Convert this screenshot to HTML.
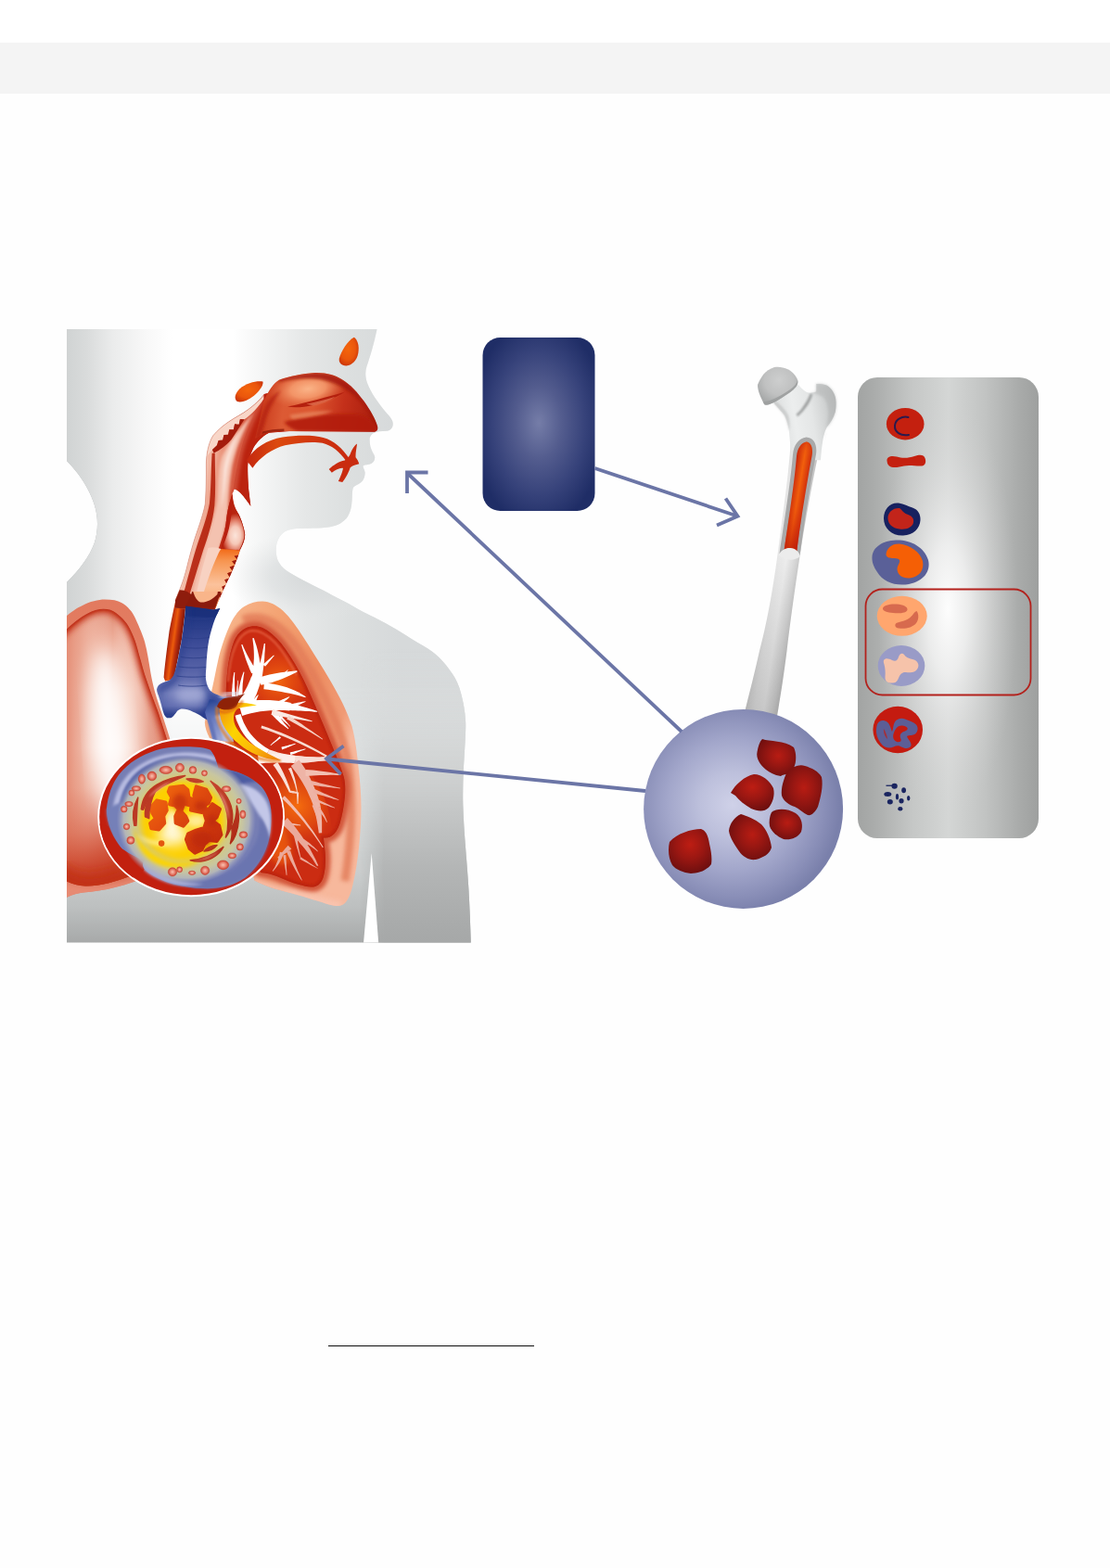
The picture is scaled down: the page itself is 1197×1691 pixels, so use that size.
<!DOCTYPE html>
<html lang="en">
<head>
<meta charset="utf-8">
<title>Figure</title>
<style>
html,body{margin:0;padding:0;background:#ffffff;}
body{width:1197px;height:1691px;position:relative;overflow:hidden;font-family:"Liberation Sans",sans-serif;}
#band{position:absolute;left:0;top:46.4px;width:1197px;height:54.4px;background:#f4f4f4;}
#lower{position:absolute;left:0;top:101px;width:1197px;height:1590px;background:#fefefe;}
#rule{position:absolute;left:354px;top:1450.8px;width:222px;height:1.2px;background:#0c0c0c;}
#fig{position:absolute;left:0;top:0;width:1197px;height:1691px;display:block;}
</style>
</head>
<body>
<div id="lower"></div>
<div id="band"></div>
<svg id="fig" viewBox="0 0 1197 1691" width="1197" height="1691">
<defs>
<filter id="ib8" x="-50%" y="-50%" width="200%" height="200%"><feGaussianBlur stdDeviation="8"/></filter>
<filter id="ib15" x="-50%" y="-50%" width="200%" height="200%"><feGaussianBlur stdDeviation="15"/></filter>
<filter id="ib30" x="-50%" y="-50%" width="200%" height="200%"><feGaussianBlur stdDeviation="30"/></filter>
<filter id="ib50" x="-60%" y="-60%" width="220%" height="220%"><feGaussianBlur stdDeviation="50"/></filter>
</defs>

<defs>
<linearGradient id="bodyV" gradientUnits="userSpaceOnUse" x1="0" y1="355" x2="0" y2="1017">
<stop offset="0" stop-color="#f3f4f4"/>
<stop offset="0.45" stop-color="#e6e8e8"/>
<stop offset="0.62" stop-color="#dfe2e2"/>
<stop offset="0.76" stop-color="#d6d9d9"/>
<stop offset="0.88" stop-color="#cbcece"/>
<stop offset="0.94" stop-color="#bdc0c0"/>
<stop offset="1" stop-color="#a7a9a9"/>
</linearGradient>
<linearGradient id="bodyH" gradientUnits="userSpaceOnUse" x1="72" y1="0" x2="430" y2="0">
<stop offset="0" stop-color="#d0d3d3"/>
<stop offset="0.06" stop-color="#d9dbdb"/>
<stop offset="0.14" stop-color="#ebecec"/>
<stop offset="0.24" stop-color="#f8f8f8"/>
<stop offset="0.32" stop-color="#ffffff"/>
<stop offset="0.5" stop-color="#ffffff"/>
<stop offset="0.6" stop-color="#f3f4f4"/>
<stop offset="0.72" stop-color="#e5e7e7"/>
<stop offset="0.85" stop-color="#dcdfdf"/>
<stop offset="1" stop-color="#d6d9da"/>
</linearGradient>
<linearGradient id="fadeV" gradientUnits="userSpaceOnUse" x1="0" y1="740" x2="0" y2="930">
<stop offset="0" stop-color="#fff"/>
<stop offset="1" stop-color="#000"/>
</linearGradient>
<mask id="headMask" maskUnits="userSpaceOnUse" x="60" y="340" width="470" height="700">
<rect x="60" y="340" width="470" height="700" fill="url(#fadeV)"/>
</mask>
<radialGradient id="jawSh" gradientUnits="userSpaceOnUse" cx="335" cy="622" r="70" gradientTransform="translate(335 622) scale(1.3 0.7) translate(-335 -622)">
<stop offset="0" stop-color="#d4d7d8" stop-opacity="0.9"/>
<stop offset="0.5" stop-color="#d8dbdc" stop-opacity="0.6"/>
<stop offset="1" stop-color="#e4e6e6" stop-opacity="0"/>
</radialGradient>
<radialGradient id="notchSh" gradientUnits="userSpaceOnUse" cx="62" cy="562" r="125" gradientTransform="translate(62 562) scale(1 1.25) translate(-62 -562)">
<stop offset="0" stop-color="#b0b4b5" stop-opacity="1"/>
<stop offset="0.32" stop-color="#b4b8b9" stop-opacity="1"/>
<stop offset="0.5" stop-color="#c2c5c6" stop-opacity="0.85"/>
<stop offset="0.75" stop-color="#dcdede" stop-opacity="0.45"/>
<stop offset="1" stop-color="#f4f4f4" stop-opacity="0"/>
</radialGradient>
<linearGradient id="armV" gradientUnits="userSpaceOnUse" x1="0" y1="700" x2="0" y2="1017">
<stop offset="0" stop-color="#e0e2e2" stop-opacity="0"/>
<stop offset="0.3" stop-color="#d4d6d6" stop-opacity="0.6"/>
<stop offset="0.52" stop-color="#c7c9c9" stop-opacity="1"/>
<stop offset="0.74" stop-color="#b4b6b6" stop-opacity="1"/>
<stop offset="0.95" stop-color="#a8aaaa" stop-opacity="1"/>
<stop offset="1" stop-color="#a6a8a8" stop-opacity="1"/>
</linearGradient>
<linearGradient id="armFade" gradientUnits="userSpaceOnUse" x1="388" y1="0" x2="414" y2="0">
<stop offset="0" stop-color="#000"/>
<stop offset="1" stop-color="#fff"/>
</linearGradient>
<mask id="armMask" maskUnits="userSpaceOnUse" x="380" y="640" width="140" height="400">
<rect x="380" y="640" width="140" height="400" fill="url(#armFade)"/>
</mask>
<clipPath id="bodyClip">
<path d="M72,355 L406.5,355 C404,368 399,385 395.5,395 C393.5,401 394,407 396,413 C400,424 408,434 414,442 C419,448 423.5,452 423.7,456.5 C424,461 421.5,464 417,464.8 L408.5,465.2 C403,466 398.6,469 398.6,474 C398.6,480 400,484 401.5,487 C403,490 404.5,492 404.2,494 C404,497 402,499.5 399,500.5 C396,501.5 392.5,501 391.6,502.5 C391,504 393.6,507 393.6,510 C393.6,514 392,518 389.5,520 C386,523 381,524 380.5,527 C379.5,531 380,535 379.5,540 C379,547 378,552 375,557 C371,563 364,567 356,568.2 C345,569.8 330,569.5 320,570.1 C312,570.6 308,572.5 304.5,575.5 C300,579.5 298,585 297.7,592 C297.5,598 298.5,603 301,607 C304,612 308,615 313,618 C325,625 335,630 345,635 C355,640 362,644 370,648 C378,652 385,656.5 392.8,660.5 C400,664 408,668 415.5,671.9 C423,676 431,680.5 438.3,685.5 C446,690.5 454,695 461,699.2 C467,703 472.5,707.5 477,712.8 C482.5,719 487,725 490.6,731 C494.5,738 497,746 498.6,753.8 C500.3,761 501.5,769 502,776.6 C502.5,784 502,792 501.6,799.3 C501,811 500.2,822 499.7,833.5 C499.3,845 499,856 499.3,867.6 C499.8,883 500.8,898 502,913.2 C503.2,928 504.4,943 505.4,958.7 C506.4,977 507.2,996 507.7,1016.5 L72,1016.5 L72,628 C85,615 97,600 102,585 C106,572 106,558 102,545 C97,528 85,510 72,497 Z"/>
</clipPath>
</defs>
<g clip-path="url(#bodyClip)">
<rect x="72" y="355" width="436" height="662" fill="url(#bodyV)"/>
<ellipse cx="62" cy="562" rx="130" ry="160" fill="url(#notchSh)"/>
<rect x="72" y="355" width="436" height="600" fill="url(#bodyH)" mask="url(#headMask)"/>
<ellipse cx="335" cy="622" rx="95" ry="52" fill="url(#jawSh)"/>
<rect x="380" y="700" width="130" height="320" fill="url(#armV)" mask="url(#armMask)"/>
<path d="M400.7,920 L392,1017 L408.2,1017 Z" fill="#ffffff"/>
</g>

<defs>
<filter id="blur3" x="-20%" y="-20%" width="140%" height="140%"><feGaussianBlur stdDeviation="3"/></filter>
<filter id="blur6" x="-30%" y="-30%" width="160%" height="160%"><feGaussianBlur stdDeviation="6"/></filter>
<filter id="blur10" x="-40%" y="-40%" width="180%" height="180%"><feGaussianBlur stdDeviation="10"/></filter>
<filter id="blur1" x="-20%" y="-20%" width="140%" height="140%"><feGaussianBlur stdDeviation="1.2"/></filter>
<filter id="blur2" x="-20%" y="-20%" width="140%" height="140%"><feGaussianBlur stdDeviation="2"/></filter>
<clipPath id="imgClip"><rect x="72" y="355" width="436" height="662"/></clipPath>
<path id="rlOuter" d="M60,674 C74,662 82,656 88,653.5 C97,648.5 106,646.5 113,646.5 C121,646.5 127,647.5 131,650 C138,654 143,660 146,667 C151,678 154,685 156,692 C159,703 160.5,714 162.5,726 C165,740 168,750 171,759 C175,771 179,783 183,796 C190,820 196,850 196,880 C196,905 180,930 160,944 C140,955 110,961 90,962.5 C80,963.5 70,968 60,974 Z"/>
<path id="rlInner" d="M60,690 C78,672 90,662 103,658 C112,655.5 120,657 125,661 C133,667 138,673 141,680 C146,690 148,698 150,706 C153,716 155,725 158,733 C162,745 167,758 171,769 C174,778 177,788 180,797 C188,825 190,860 188,890 C184,915 165,935 140,945 C125,951 105,956 92,955.5 C80,955 70,950 60,944 Z"/>
<clipPath id="rlInnerClip"><use href="#rlInner"/></clipPath>
<clipPath id="rlOuterClip"><use href="#rlOuter"/></clipPath>
<linearGradient id="rlOutG" gradientUnits="userSpaceOnUse" x1="0" y1="646" x2="0" y2="970">
<stop offset="0" stop-color="#e27a5f"/>
<stop offset="0.5" stop-color="#e58569"/>
<stop offset="0.9" stop-color="#dc6c52"/>
<stop offset="1" stop-color="#e0806a"/>
</linearGradient>
<linearGradient id="rlInV" gradientUnits="userSpaceOnUse" x1="0" y1="655" x2="0" y2="958">
<stop offset="0" stop-color="#e08a72"/>
<stop offset="0.12" stop-color="#eeb09c"/>
<stop offset="0.3" stop-color="#f8d8cc"/>
<stop offset="0.5" stop-color="#fbe6de"/>
<stop offset="0.62" stop-color="#f2c0b0"/>
<stop offset="0.76" stop-color="#e4917b"/>
<stop offset="0.89" stop-color="#d25339"/>
<stop offset="1" stop-color="#c4331b"/>
</linearGradient>
<linearGradient id="rlBot" gradientUnits="userSpaceOnUse" x1="0" y1="850" x2="0" y2="958">
<stop offset="0" stop-color="#d9654c" stop-opacity="0"/>
<stop offset="0.45" stop-color="#d45a40" stop-opacity="0.45"/>
<stop offset="0.8" stop-color="#c83c22" stop-opacity="0.85"/>
<stop offset="1" stop-color="#c2331b" stop-opacity="1"/>
</linearGradient>
<linearGradient id="rlInH" gradientUnits="userSpaceOnUse" x1="72" y1="0" x2="190" y2="0">
<stop offset="0" stop-color="#e48c74" stop-opacity="0.95"/>
<stop offset="0.12" stop-color="#e9a08a" stop-opacity="0.75"/>
<stop offset="0.3" stop-color="#f6d0c2" stop-opacity="0.25"/>
<stop offset="0.42" stop-color="#ffffff" stop-opacity="0"/>
<stop offset="0.56" stop-color="#f6d0c2" stop-opacity="0.3"/>
<stop offset="0.75" stop-color="#e49680" stop-opacity="0.8"/>
<stop offset="1" stop-color="#d8654c" stop-opacity="0.95"/>
</linearGradient>
<path id="llOuter" d="M228.5,744 C231,733 233,722 235,713 C238,699 243,685 248,674 C252,665 257,658 263.5,654 C270,650 277,648.5 283,648.6 C291,649 298,652.5 305,658.5 C313,666 320,676 327,687 C335,699 342,711 349,722 C355,732 361,742 366.4,752.6 C372,763 376,773 379.5,783 C383,796 385,812 386.5,827 C388.2,842 389.5,856 389.5,870.8 C389.5,885 388.5,900 387,914.6 C385.5,928 383.5,942 380.5,954 C379,961 377,967 374,971.5 C371.5,975.5 367,977.5 362,977 C355,976 349,973.5 342.3,971.5 C335,969.5 328,967 320.4,965 C312,962.5 304,960.5 296.3,958.4 C288,956 281,953 274.4,949.6 L243,800 L226,796 C223,790 221,784 220.8,779 Z"/>
<path id="llInner" d="M243.8,748 C244,735 245,726 246,717.6 C247.5,708 249.5,699 252.5,691.3 C255.5,684.5 260,679.5 265.7,677 C271.5,674.5 277.5,674.5 283,677 C290.5,680.5 297,686.5 302.9,693.5 C310,702.5 316.5,713 322.6,724 C329,736 334.5,748.5 340,761.3 C346,775 352,789 357.6,803 C362.5,815 367.5,826.5 370.8,838 C372.5,845 372.5,852.5 371.8,859.9 C370.8,869.5 369,879.5 366.4,888.3 C364.5,894.5 361.5,899 357.6,901.5 C355,903.5 351.5,903.3 348.9,903.6 C349.5,911 350.8,918 351,925.5 C351,932.5 350.5,939 348.9,945 C347.5,950.5 344.5,954.5 340,956 C334.5,957.5 328.5,955.5 322.6,954 C314.5,952 306.5,948.5 298.5,945 C292.5,942.5 286.5,941.5 281,941 L250,790 Z"/>
<clipPath id="llOuterClip"><use href="#llOuter"/></clipPath>
<clipPath id="llInnerClip"><use href="#llInner"/></clipPath>
<linearGradient id="llOutG" gradientUnits="userSpaceOnUse" x1="230" y1="700" x2="392" y2="760">
<stop offset="0" stop-color="#f7b58c"/>
<stop offset="0.3" stop-color="#f4a474"/>
<stop offset="0.65" stop-color="#ee8e62"/>
<stop offset="0.9" stop-color="#f09a74"/>
<stop offset="1" stop-color="#f7b89c"/>
</linearGradient>
<radialGradient id="llHi1" gradientUnits="userSpaceOnUse" cx="300" cy="735" r="45">
<stop offset="0" stop-color="#f2650e"/>
<stop offset="0.5" stop-color="#e2480f" stop-opacity="0.7"/>
<stop offset="1" stop-color="#cc2c12" stop-opacity="0"/>
</radialGradient>
<radialGradient id="llHi2" gradientUnits="userSpaceOnUse" cx="322" cy="870" r="50">
<stop offset="0" stop-color="#f56c0e"/>
<stop offset="0.5" stop-color="#e4500f" stop-opacity="0.75"/>
<stop offset="1" stop-color="#cc2c12" stop-opacity="0"/>
</radialGradient>
</defs>
<g clip-path="url(#imgClip)">
<!-- right lung (viewer's left) -->
<use href="#rlOuter" fill="url(#rlOutG)"/>
<g clip-path="url(#rlOuterClip)">
<path d="M60,946 C90,962 130,957 165,938 L175,990 L60,990 Z" fill="#e88d76" opacity="0.85" filter="url(#blur3)"/>
</g>
<g clip-path="url(#rlInnerClip)">
<rect x="60" y="640" width="150" height="340" fill="url(#rlInV)"/>
<rect x="60" y="640" width="150" height="340" fill="url(#rlInH)"/>
<rect x="60" y="840" width="150" height="130" fill="url(#rlBot)"/>
<ellipse cx="118" cy="795" rx="17" ry="95" fill="#ffffff" opacity="0.9" filter="url(#blur10)" transform="rotate(-4 118 795)"/>
<path d="M60,690 C78,672 90,662 103,658 C112,655.5 120,657 125,661 C133,667 138,673 141,680 C146,690 148,698 150,706 C153,716 155,725 158,733 C162,745 167,758 171,769 C174,778 177,788 180,797 C186,815 190,835 192,860" fill="none" stroke="#c63a22" stroke-width="9" filter="url(#blur3)"/>
<path d="M60,690 C78,672 90,662 103,658 C112,655.5 120,657 125,661 C133,667 138,673 141,680 C146,690 148,698 150,706 C153,716 155,725 158,733 C162,745 167,758 171,769 C174,778 177,788 180,797" fill="none" stroke="#bf2f18" stroke-width="3" filter="url(#blur1)"/>
<path d="M55,935 C70,950 80,955 92,955.5 C105,956 125,951 150,940" fill="none" stroke="#c23218" stroke-width="22" filter="url(#blur6)"/>
</g>
<!-- left lung (viewer's right) -->
<use href="#llOuter" fill="url(#llOutG)"/>
<g clip-path="url(#llOuterClip)">
<path d="M262,668 C285,660 305,675 322,700 C345,738 365,780 374,815 C381,850 380,900 372,950" fill="none" stroke="#e27b58" stroke-width="9" opacity="0.8" filter="url(#blur2)"/>
<use href="#llInner" fill="none" stroke="#d3573a" stroke-width="11" filter="url(#blur2)"/>
<path d="M270,950 C300,962 340,972 368,978" fill="none" stroke="#f9c6b2" stroke-width="10" filter="url(#blur3)" opacity="0.9"/>
</g>
<use href="#llInner" fill="#cb2c12"/>
<g clip-path="url(#llInnerClip)">
<ellipse cx="300" cy="735" rx="42" ry="52" fill="url(#llHi1)"/>
<ellipse cx="320" cy="872" rx="32" ry="62" fill="url(#llHi2)" transform="rotate(-22 320 872)"/>
<ellipse cx="296" cy="905" rx="14" ry="30" fill="#f2650e" opacity="0.7" filter="url(#blur3)" transform="rotate(-25 296 905)"/>
<use href="#llInner" fill="none" stroke="#b8240f" stroke-width="5" filter="url(#blur1)" opacity="0.8"/>
<path d="M246,735 C248,705 256,682 272,680 C290,680 305,700 320,728" fill="none" stroke="#e86a4a" stroke-width="2" opacity="0.8" filter="url(#blur1)"/>
</g>
<!--TREE-->
</g>

<g clip-path="url(#imgClip)">
<g clip-path="url(#llInnerClip)">
<g transform="translate(225 660) scale(0.14203)">
<path d="M201,786 L212,823 L227,858 L244,892 L264,924 L286,954 L312,982 L340,1009 L371,1035 L404,1058 L440,1080 L460,1044 L427,1024 L396,1002 L368,978 L342,953 L320,927 L299,900 L282,870 L266,840 L254,808 L243,774 Z M280,769 L296,747 L311,724 L326,700 L339,675 L351,650 L363,624 L373,597 L383,569 L392,541 L399,511 L325,489 L315,515 L305,539 L294,563 L282,586 L270,608 L257,628 L243,648 L229,667 L215,684 L200,701 Z M398,509 L397,476 L396,444 L393,412 L389,381 L384,349 L378,318 L371,287 L363,257 L353,227 L343,197 L333,199 L337,230 L341,261 L343,292 L344,322 L344,352 L342,382 L340,412 L337,442 L332,472 L326,501 Z M364,444 L354,429 L343,414 L333,397 L322,379 L311,360 L300,340 L289,318 L278,296 L267,272 L256,247 L248,249 L256,276 L264,301 L272,326 L279,349 L287,371 L295,392 L303,412 L310,431 L318,449 L326,466 Z M406,491 L410,468 L413,446 L416,422 L419,398 L422,373 L424,348 L425,322 L427,296 L428,268 L429,240 L421,240 L416,267 L411,294 L406,320 L401,345 L395,369 L390,393 L384,416 L377,438 L370,459 L364,479 Z M430,413 L437,405 L444,397 L451,389 L457,381 L464,373 L471,364 L478,356 L484,348 L491,340 L498,332 L494,328 L486,335 L478,342 L470,349 L462,356 L454,362 L446,369 L438,376 L430,383 L422,390 L414,397 Z M204,641 L202,625 L200,608 L199,591 L198,573 L197,555 L197,537 L197,518 L197,498 L198,479 L199,458 L193,458 L189,478 L186,498 L184,517 L182,536 L180,555 L179,573 L177,591 L177,609 L176,626 L176,643 Z M257,633 L257,615 L257,597 L257,579 L258,561 L259,543 L261,526 L263,508 L265,491 L268,473 L271,456 L265,454 L259,471 L253,488 L248,505 L243,523 L239,540 L235,558 L231,576 L228,594 L225,613 L223,631 Z M222,642 L222,630 L222,618 L222,606 L223,593 L223,581 L223,569 L223,557 L223,545 L224,532 L224,520 L220,520 L219,532 L218,544 L217,556 L215,569 L214,581 L213,593 L212,605 L211,617 L209,629 L208,642 Z M397,555 L423,549 L450,543 L478,536 L505,527 L533,518 L560,507 L588,495 L616,482 L645,468 L673,454 L671,446 L639,449 L608,452 L577,456 L547,460 L518,465 L490,470 L462,476 L435,482 L409,489 L383,495 Z M546,506 L552,500 L557,493 L563,487 L569,480 L575,474 L580,467 L586,461 L592,454 L597,448 L603,441 L601,439 L594,444 L587,450 L581,455 L574,461 L567,466 L561,472 L554,477 L547,483 L541,488 L534,494 Z M418,586 L452,590 L486,595 L520,600 L552,606 L584,612 L615,618 L646,625 L676,632 L705,640 L735,649 L737,643 L711,626 L684,611 L655,597 L625,584 L594,572 L562,563 L528,554 L494,548 L459,542 L422,538 Z M559,607 L572,607 L585,608 L599,609 L612,610 L625,610 L638,611 L651,612 L664,612 L677,613 L690,614 L690,610 L677,609 L664,607 L651,605 L638,603 L625,602 L612,600 L599,598 L587,597 L574,595 L561,593 Z M254,789 L287,778 L321,769 L356,762 L391,756 L427,751 L463,748 L501,746 L538,746 L577,747 L615,750 L625,690 L584,682 L543,676 L503,672 L463,669 L423,668 L383,668 L344,671 L304,674 L265,680 L226,687 Z M616,747 L636,748 L657,748 L677,749 L698,750 L719,752 L740,753 L761,754 L782,756 L804,758 L825,759 L827,753 L806,746 L785,740 L765,734 L744,727 L724,721 L704,716 L684,710 L664,704 L644,699 L624,693 Z M344,711 L348,703 L351,695 L354,687 L358,679 L361,671 L365,663 L368,655 L371,647 L375,639 L378,631 L374,629 L368,635 L362,641 L356,648 L351,654 L345,661 L339,667 L333,674 L327,680 L321,686 L316,693 Z M530,718 L538,711 L547,704 L555,696 L564,689 L573,682 L581,675 L590,668 L598,661 L607,653 L615,646 L613,642 L602,646 L592,651 L582,655 L572,660 L561,664 L551,668 L541,673 L531,677 L520,682 L510,686 Z M625,731 L636,726 L647,721 L658,716 L669,711 L681,707 L692,702 L703,697 L714,692 L726,687 L737,682 L735,678 L723,680 L711,682 L699,685 L687,687 L675,689 L663,692 L651,694 L639,697 L627,699 L615,701 Z M483,781 L493,793 L504,804 L514,815 L526,826 L538,837 L550,848 L563,858 L576,868 L590,879 L604,889 L608,883 L596,871 L585,858 L575,846 L565,833 L555,821 L546,808 L538,796 L531,784 L523,771 L517,759 Z M533,797 L541,805 L550,812 L559,819 L567,827 L576,834 L584,842 L593,849 L602,856 L610,864 L619,871 L621,869 L614,860 L606,852 L599,843 L592,834 L584,826 L577,817 L569,809 L562,800 L555,791 L547,783 Z M541,945 L533,951 L526,958 L519,964 L512,971 L505,977 L497,984 L490,990 L483,997 L476,1004 L468,1010 L472,1014 L479,1008 L487,1002 L495,996 L503,990 L510,985 L518,979 L526,973 L534,967 L542,961 L549,955 Z M558,1046 L569,1041 L579,1037 L589,1033 L599,1028 L610,1024 L620,1020 L630,1015 L640,1011 L651,1007 L661,1002 L659,998 L648,1000 L638,1003 L627,1006 L616,1009 L605,1012 L595,1015 L584,1018 L573,1021 L562,1023 L552,1026 Z M623,1086 L634,1081 L646,1077 L657,1073 L669,1068 L680,1064 L691,1060 L703,1055 L714,1051 L725,1047 L737,1042 L735,1038 L723,1040 L712,1043 L700,1046 L688,1049 L676,1052 L664,1055 L652,1058 L641,1061 L629,1063 L617,1066 Z" fill="#ffffff"/>
<path d="M443,1081 L479,1093 L518,1103 L558,1111 L601,1118 L645,1124 L692,1128 L741,1131 L792,1132 L845,1131 L900,1130 L900,1102 L845,1103 L793,1102 L743,1099 L695,1095 L650,1090 L606,1083 L566,1075 L527,1066 L491,1055 L457,1043 Z" fill="#fbe6de"/>
<path d="M475,782 L504,786 L533,791 L563,796 L593,801 L624,806 L655,811 L687,817 L719,822 L752,828 L785,833 L787,827 L754,817 L722,808 L691,799 L660,790 L629,781 L599,772 L570,764 L541,755 L513,747 L485,738 Z" fill="#fbe9e2"/>
<path d="M592,813 L617,826 L642,840 L668,854 L695,869 L722,884 L749,900 L777,916 L806,933 L835,950 L865,968 L867,964 L839,944 L811,924 L784,905 L757,887 L731,869 L706,851 L680,835 L656,818 L631,802 L608,787 Z" fill="#f6d2c6"/>
<path d="M397,882 L445,898 L493,915 L542,934 L591,954 L640,975 L690,998 L740,1022 L790,1048 L841,1074 L892,1103 L900,1089 L849,1061 L798,1033 L748,1007 L697,982 L648,959 L598,937 L549,916 L500,897 L451,879 L403,862 Z" fill="#f8dcd2"/>
</g>
<g transform="translate(250 800) scale(0.14203)">
<path d="M202,165 L230,163 L257,161 L284,160 L312,159 L339,159 L367,159 L394,159 L422,160 L450,161 L477,163 L483,105 L454,102 L426,99 L398,96 L369,94 L341,92 L312,91 L284,90 L255,90 L226,90 L198,91 Z" fill="#fdeee8"/>
<path d="M479,163 L503,162 L527,161 L551,160 L575,158 L599,155 L622,153 L645,150 L668,146 L691,142 L713,138 L711,114 L688,115 L666,116 L643,116 L620,115 L597,115 L574,114 L551,112 L528,110 L505,108 L481,105 Z" fill="#f8dcd4"/>
<path d="M449,183 L472,214 L495,245 L516,276 L535,307 L554,339 L571,372 L586,405 L601,438 L614,472 L625,507 L675,493 L665,456 L654,419 L641,383 L627,346 L611,311 L594,275 L576,240 L556,205 L534,171 L511,137 Z M625,505 L630,524 L634,543 L638,562 L642,581 L646,600 L649,619 L652,637 L655,656 L658,674 L660,693 L684,691 L684,673 L684,654 L684,635 L684,615 L683,596 L682,576 L681,556 L679,536 L677,516 L675,495 Z" fill="#eeb4a6"/>
<path d="M560,261 L588,259 L615,257 L642,256 L669,254 L696,253 L722,253 L748,252 L774,252 L800,253 L826,253 L826,247 L801,242 L776,237 L750,232 L724,228 L697,225 L670,221 L643,218 L616,215 L588,213 L560,211 Z" fill="#f2c0b2"/>
<path d="M597,325 L619,329 L641,332 L664,336 L686,339 L709,342 L731,345 L754,347 L776,350 L799,352 L822,355 L822,349 L800,345 L778,340 L756,335 L734,330 L712,324 L690,319 L668,313 L647,307 L625,301 L603,295 Z M615,386 L635,393 L655,399 L675,405 L695,411 L715,417 L735,423 L754,428 L773,434 L792,439 L811,444 L813,440 L795,432 L777,424 L758,416 L740,408 L721,400 L702,392 L683,384 L664,375 L645,366 L625,358 Z M626,451 L641,456 L657,462 L672,467 L688,472 L703,478 L719,483 L734,488 L750,494 L765,499 L781,504 L783,500 L768,493 L753,486 L738,478 L724,471 L709,464 L694,457 L679,450 L664,443 L649,436 L634,429 Z M642,508 L652,518 L661,527 L670,537 L679,547 L687,557 L694,567 L702,578 L708,590 L714,601 L720,613 L724,611 L721,598 L716,586 L711,573 L705,561 L699,549 L692,537 L685,526 L677,514 L668,503 L658,492 Z M609,484 L616,500 L622,515 L628,531 L634,547 L640,562 L645,578 L650,594 L655,610 L659,626 L663,642 L669,642 L666,625 L663,608 L660,592 L657,575 L653,559 L650,542 L645,525 L641,509 L636,492 L631,476 Z" fill="#eeb0a2"/>
<path d="M313,176 L328,196 L342,216 L355,237 L368,257 L381,278 L393,299 L404,320 L415,341 L426,363 L436,384 L448,380 L441,357 L433,334 L424,311 L415,288 L405,266 L395,243 L384,220 L372,198 L360,176 L347,154 Z" fill="#fae2da"/>
<path d="M439,386 L445,387 L451,388 L457,389 L464,390 L470,391 L476,391 L482,392 L488,393 L495,394 L501,395 L503,381 L497,380 L491,379 L485,378 L478,377 L472,375 L466,374 L460,373 L454,372 L448,371 L441,370 Z M492,385 L492,394 L493,402 L493,411 L494,420 L494,428 L495,437 L495,446 L496,455 L496,463 L497,472 L503,472 L504,463 L504,455 L505,446 L505,437 L506,428 L506,420 L507,411 L507,402 L508,394 L508,385 Z" fill="#f6d0c4"/>
<path d="M429,205 L438,222 L446,240 L453,257 L460,275 L467,293 L473,310 L479,328 L484,346 L489,364 L493,382 L499,382 L496,363 L493,344 L489,326 L485,307 L481,288 L476,270 L470,251 L464,232 L458,214 L451,195 Z" fill="#f8dcd2"/>
<path d="M380,430 L415,463 L448,497 L481,533 L513,569 L544,606 L574,644 L604,682 L633,722 L662,762 L689,804 L695,800 L669,758 L642,716 L615,675 L586,635 L557,595 L527,557 L497,519 L465,482 L433,446 L400,410 Z M419,628 L429,629 L439,630 L450,631 L460,632 L470,633 L480,634 L491,635 L501,636 L511,636 L522,637 L522,631 L512,629 L502,627 L492,625 L482,623 L472,621 L462,619 L452,617 L441,615 L431,613 L421,612 Z" fill="#f2bcae"/>
<path d="M378,622 L392,635 L406,648 L420,661 L433,674 L446,688 L458,701 L470,714 L482,728 L493,741 L504,755 L540,729 L530,714 L519,699 L508,684 L497,668 L485,653 L473,638 L461,623 L448,608 L435,593 L422,578 Z M505,756 L521,774 L537,792 L553,811 L568,830 L582,848 L596,867 L610,886 L623,906 L635,925 L647,944 L657,940 L647,918 L638,897 L627,876 L616,855 L605,834 L593,812 L580,791 L567,770 L554,749 L539,728 Z M524,752 L538,759 L552,766 L565,774 L578,781 L591,789 L604,798 L616,806 L628,815 L639,824 L650,834 L654,830 L644,819 L633,808 L623,798 L611,788 L600,778 L588,768 L575,758 L563,749 L549,740 L536,732 Z M468,702 L472,720 L477,738 L481,756 L486,774 L491,792 L496,810 L502,828 L507,846 L513,865 L520,883 L524,881 L520,863 L516,844 L512,826 L508,807 L505,789 L502,771 L499,752 L496,734 L494,716 L492,698 Z M416,835 L425,857 L435,879 L445,901 L456,922 L467,944 L479,966 L491,988 L504,1010 L516,1031 L530,1053 L534,1051 L523,1028 L513,1005 L502,982 L493,959 L484,937 L475,914 L467,892 L459,869 L451,847 L444,825 Z M365,836 L362,852 L359,867 L355,882 L350,897 L344,912 L338,926 L332,940 L325,954 L317,967 L308,980 L312,984 L323,972 L333,959 L343,946 L352,933 L361,919 L369,905 L376,891 L383,875 L389,860 L395,844 Z M390,861 L392,876 L395,891 L397,906 L399,922 L402,937 L404,952 L406,967 L409,982 L411,997 L413,1012 L419,1012 L418,996 L417,981 L416,966 L415,951 L414,935 L414,920 L413,905 L412,889 L411,874 L410,859 Z M427,786 L419,795 L411,805 L403,814 L395,823 L387,832 L379,841 L371,851 L363,860 L355,869 L347,878 L353,886 L363,879 L373,871 L383,864 L393,857 L403,850 L413,843 L423,835 L433,828 L443,821 L453,814 Z M516,889 L529,897 L543,904 L556,912 L570,919 L583,926 L597,934 L610,941 L624,949 L638,956 L651,963 L653,961 L640,952 L627,943 L614,935 L601,926 L589,918 L576,909 L563,900 L550,892 L537,883 L524,875 Z" fill="#eba99a"/>
</g>
</g>
</g>

<defs>
<linearGradient id="nasG" gradientUnits="userSpaceOnUse" x1="330" y1="420" x2="1020" y2="520">
<stop offset="0" stop-color="#c8381a"/>
<stop offset="0.2" stop-color="#dc5a34"/>
<stop offset="0.45" stop-color="#dc5630"/>
<stop offset="0.7" stop-color="#c4301a"/>
<stop offset="1" stop-color="#a81c0c"/>
</linearGradient>
<radialGradient id="nasHi" gradientUnits="userSpaceOnUse" cx="610" cy="350" r="230" gradientTransform="translate(610 350) scale(1 0.5) translate(-610 -350)">
<stop offset="0" stop-color="#fbb488"/>
<stop offset="0.45" stop-color="#f59a6c" stop-opacity="0.9"/>
<stop offset="1" stop-color="#e06a40" stop-opacity="0"/>
</radialGradient>
<clipPath id="nasClip"><path d="M300,640 C320,560 340,470 350,420 C380,360 410,315 440,298 C500,275 580,262 650,256 C720,254 770,270 810,295 C860,325 900,370 940,425 C975,475 1005,525 1018,570 C1022,590 1015,600 1000,602 L445,598 C400,600 370,606 350,612 Z"/></clipPath>
<radialGradient id="sinG" cx="0.45" cy="0.4" r="0.65">
<stop offset="0" stop-color="#f4660c"/>
<stop offset="0.6" stop-color="#ea560c"/>
<stop offset="1" stop-color="#c93208"/>
</radialGradient>
<linearGradient id="trG" gradientUnits="userSpaceOnUse" x1="0" y1="140" x2="0" y2="1300">
<stop offset="0" stop-color="#1a2e78"/>
<stop offset="0.12" stop-color="#233884"/>
<stop offset="0.35" stop-color="#3d4c98"/>
<stop offset="0.6" stop-color="#5864a8"/>
<stop offset="0.8" stop-color="#7680bc"/>
<stop offset="0.92" stop-color="#6470b2"/>
<stop offset="1" stop-color="#30438f"/>
</linearGradient>
<linearGradient id="esoG" gradientUnits="userSpaceOnUse" x1="200" y1="500" x2="340" y2="520">
<stop offset="0" stop-color="#8e1c0c"/>
<stop offset="0.25" stop-color="#c8360c"/>
<stop offset="0.5" stop-color="#ec5c0c"/>
<stop offset="0.72" stop-color="#c0320c"/>
<stop offset="1" stop-color="#8a1a0c"/>
</linearGradient>
<linearGradient id="yelG" gradientUnits="userSpaceOnUse" x1="236" y1="770" x2="300" y2="820">
<stop offset="0" stop-color="#f29a0c"/>
<stop offset="0.3" stop-color="#fdd400"/>
<stop offset="0.65" stop-color="#fbb808"/>
<stop offset="1" stop-color="#ee7e0c"/>
</linearGradient>
<linearGradient id="brG" gradientUnits="userSpaceOnUse" x1="228" y1="756" x2="242" y2="800">
<stop offset="0" stop-color="#2c4796"/>
<stop offset="0.4" stop-color="#6a7cc0"/>
<stop offset="1" stop-color="#a4acd8"/>
</linearGradient>
<clipPath id="trClip"><path d="M400,135 L700,175 L770,160 C750,200 735,230 720,260 C705,300 690,340 680,380 C668,420 658,460 650,500 C640,550 634,600 630,650 C625,700 622,750 620,800 C617,840 615,870 615,900 C618,930 622,955 630,980 C640,1005 650,1025 660,1040 C680,1060 700,1072 720,1080 C750,1092 775,1102 800,1110 L960,1110 L940,1180 L760,1230 C750,1260 720,1300 700,1330 L680,1360 C660,1360 640,1358 620,1350 C600,1340 580,1325 560,1310 C530,1290 505,1280 480,1270 C460,1260 440,1250 420,1245 C395,1240 375,1238 350,1240 C335,1245 320,1252 310,1260 C300,1275 290,1290 280,1300 C268,1318 255,1330 240,1335 L200,1335 C188,1325 178,1315 170,1300 C158,1268 148,1235 140,1200 C130,1165 120,1130 110,1100 C100,1075 92,1052 90,1030 C94,1012 100,998 110,985 C125,972 142,962 160,955 C185,948 210,940 230,930 C248,915 260,898 270,880 C282,848 292,815 300,780 C312,735 322,688 330,640 C342,588 352,535 360,480 C368,430 375,380 380,330 C386,285 391,242 395,200 Z"/></clipPath>
<linearGradient id="phG2" gradientUnits="userSpaceOnUse" x1="150" y1="800" x2="380" y2="840">
<stop offset="0" stop-color="#f3bca8"/>
<stop offset="0.3" stop-color="#e88a70"/>
<stop offset="0.6" stop-color="#d6543a"/>
<stop offset="1" stop-color="#bb230f"/>
</linearGradient>
<radialGradient id="epiG2" gradientUnits="userSpaceOnUse" cx="305" cy="1065" r="95" gradientTransform="translate(305 1065) scale(0.75 1.2) translate(-305 -1065)">
<stop offset="0" stop-color="#fbe4da"/>
<stop offset="0.4" stop-color="#f6c8b8"/>
<stop offset="0.7" stop-color="#e07a64"/>
<stop offset="1" stop-color="#b8240f"/>
</radialGradient>
<linearGradient id="larG2" gradientUnits="userSpaceOnUse" x1="0" y1="1135" x2="0" y2="1440">
<stop offset="0" stop-color="#f26a18"/>
<stop offset="0.2" stop-color="#f79550"/>
<stop offset="0.6" stop-color="#fbc29c"/>
<stop offset="0.88" stop-color="#f9ae78"/>
<stop offset="1" stop-color="#e8701e"/>
</linearGradient>
<clipPath id="phClip"><path d="M455,335 C440,355 410,390 350,430 C300,460 240,490 190,550 C165,590 155,650 155,700 C156,760 154,840 150,900 C140,960 105,1050 90,1100 C75,1150 65,1190 55,1230 C40,1290 25,1330 -5,1400 L-5,1440 L200,1450 C215,1410 240,1350 280,1270 C300,1225 318,1180 330,1140 C345,1110 356,1085 355,1060 C352,1030 338,985 320,950 C305,925 295,905 290,850 L300,825 C320,832 340,850 385,915 C380,870 373,830 372,800 C370,760 369,720 370,700 C372,680 385,640 400,610 C420,580 440,555 480,535 L600,525 L600,300 Z"/></clipPath>
<filter id="pb2" x="-30%" y="-30%" width="160%" height="160%"><feGaussianBlur stdDeviation="3"/></filter>
<filter id="pb4" x="-30%" y="-30%" width="160%" height="160%"><feGaussianBlur stdDeviation="7"/></filter>
<filter id="pb6" x="-30%" y="-30%" width="160%" height="160%"><feGaussianBlur stdDeviation="10"/></filter>
<linearGradient id="arcG" gradientUnits="userSpaceOnUse" x1="250" y1="0" x2="850" y2="0">
<stop offset="0" stop-color="#c42810"/>
<stop offset="0.3" stop-color="#dc4a0e"/>
<stop offset="0.6" stop-color="#d2380e"/>
<stop offset="1" stop-color="#c82a10"/>
</linearGradient>
</defs>
<g clip-path="url(#imgClip)">
<g transform="translate(160 640) scale(0.100503)">
<path d="M352,-60 C330,-10 305,40 286,100 C266,200 242,310 225,400 C205,550 185,700 165,900 L180,940 C220,935 260,930 280,890 C300,780 330,640 360,480 C380,330 395,200 400,135 L470,100 L470,-60 Z" fill="url(#esoG)"/>
</g>
<!-- pharynx -->
<g transform="translate(190 355) scale(0.20886)">
<path d="M455,335 C440,355 410,390 350,430 C300,460 240,490 190,550 C165,590 155,650 155,700 C156,760 154,840 150,900 C140,960 105,1050 90,1100 C75,1150 65,1190 55,1230 C40,1290 25,1330 -5,1400 L-5,1440 L200,1450 C215,1410 240,1350 280,1270 C300,1225 318,1180 330,1140 C345,1110 356,1085 355,1060 C352,1030 338,985 320,950 C305,925 295,905 290,850 L300,825 C320,832 340,850 385,915 C380,870 373,830 372,800 C370,760 369,720 370,700 C372,680 385,640 400,610 C420,580 440,555 480,535 L600,525 L600,300 Z" fill="url(#phG2)"/>
<g clip-path="url(#phClip)">
<!-- dark core band -->
<path d="M470,300 C420,400 360,520 335,620 C315,700 300,780 292,850 L300,825 C320,832 340,850 385,915 C372,800 368,720 372,690 C385,640 420,580 480,535 L600,525 L600,300 Z" fill="#bb230f"/>
<path d="M440,360 C400,450 355,540 330,640 C315,710 305,780 298,840" fill="none" stroke="#d8604a" stroke-width="26" opacity="0.8" filter="url(#pb6)"/>
<!-- light streak -->
<path d="M400,430 C340,500 270,580 235,660 C215,720 215,800 210,880 C200,960 170,1040 150,1110 C130,1180 105,1270 80,1380 L150,1390 C170,1290 200,1200 225,1130 C245,1070 262,1000 268,930 C270,860 275,780 290,700 C310,610 350,520 400,430 Z" fill="#f4c2b0" filter="url(#pb4)"/>
<path d="M330,520 C290,580 255,650 245,720 C240,790 240,860 232,930 C250,860 255,790 265,720 C280,650 300,590 330,520 Z" fill="#fbe2d8" filter="url(#pb4)"/>
<!-- dark stripes lower left -->
<path d="M185,640 C180,720 180,820 172,900 C160,970 130,1050 110,1110 C90,1170 70,1250 45,1340 L20,1400 L60,1400 C85,1320 115,1220 140,1140 C165,1070 190,990 198,910 C205,820 200,720 200,640 Z" fill="#b4220e" opacity="0.9" filter="url(#pb2)"/>
<path d="M260,1000 C240,1080 210,1160 185,1230 C165,1290 150,1350 140,1400 L175,1400 C190,1340 210,1280 232,1220 C255,1150 275,1080 285,1010 Z" fill="#b8240f" opacity="0.9" filter="url(#pb2)"/>
<!-- outer light band -->
<path d="M165,620 C158,700 158,800 152,890 C142,960 108,1050 92,1100 C78,1150 66,1200 56,1240 C44,1290 30,1330 5,1390 L-10,1380 L-10,1250 C40,1150 100,1000 140,900 C150,800 150,700 155,620 Z" fill="#f6ccbc" opacity="0.95" filter="url(#pb2)"/>
<!-- adenoid -->
<path d="M452,338 C435,360 400,390 350,428 C300,460 240,490 190,550 C168,585 158,625 156,660 L186,622 L210,600 L218,575 L240,572 L246,546 L268,545 L274,518 L296,518 L302,490 L324,492 L330,464 L352,466 C390,440 425,400 452,360 Z" fill="#f8d6c8"/>
<path d="M186,622 L210,600 L218,575 L240,572 L246,546 L268,545 L274,518 L296,518 L302,490 L324,492 L330,464 L352,466 C330,500 305,540 285,570 C260,600 225,625 195,640 Z" fill="#a41c0c"/>
<!-- epiglottis -->
<path d="M290,850 C295,905 305,925 320,950 C338,985 352,1030 355,1060 C356,1085 345,1110 330,1140 L232,1135 C245,1080 255,1020 262,960 C268,920 278,885 290,850 Z" fill="url(#epiG2)"/>
<path d="M262,960 C268,920 278,885 290,850 C292,900 288,960 272,1030 C262,1070 248,1105 232,1135 C245,1080 255,1020 262,960 Z" fill="#b8200f"/>
<path d="M320,950 C338,985 352,1030 355,1060 C356,1085 345,1110 330,1140" fill="none" stroke="#a81c0c" stroke-width="7"/>
<!-- larynx orange -->
<path d="M230,1135 L332,1142 L326,1165 L300,1172 L316,1190 L288,1198 L304,1218 L276,1228 L292,1250 L264,1260 L278,1284 L250,1294 L262,1318 L236,1330 L246,1356 L220,1368 L226,1395 L205,1440 L95,1425 C120,1330 150,1250 185,1185 C200,1160 215,1145 230,1135 Z" fill="url(#larG2)"/>
<path d="M332,1142 L326,1165 L300,1172 L316,1190 L288,1198 L304,1218 L276,1228 L292,1250 L264,1260 L278,1284 L250,1294 L262,1318 L236,1330 L246,1356 L220,1368 L226,1395 L205,1440 L230,1440 C260,1370 300,1290 340,1200 C350,1175 350,1155 332,1142 Z" fill="#9c1d0c"/>
<path d="M165,1130 C145,1200 120,1280 100,1390 L125,1420 C150,1330 180,1240 215,1165 C222,1150 228,1140 232,1135 C215,1128 190,1122 165,1130 Z" fill="#f8d2c2" filter="url(#pb2)"/>
<path d="M-5,1350 C30,1340 60,1350 90,1380 L130,1420 L200,1430 L200,1460 L-10,1460 Z" fill="#8e1c0c" filter="url(#pb2)"/>
</g>
<path d="M455,335 C440,355 410,390 350,430 C300,460 240,490 190,550 C165,590 155,650 155,700 C156,760 154,840 150,900 C140,960 105,1050 90,1100 C75,1150 65,1190 55,1230 C40,1290 25,1330 -5,1400" fill="none" stroke="#b84a34" stroke-width="3" opacity="0.6"/>
</g>
<!-- sinuses -->
<g transform="translate(220 355) scale(0.18379)">
<path d="M880,48 C900,60 912,95 905,140 C898,180 870,212 835,215 C805,214 788,195 794,170 C805,130 840,70 880,48 Z" fill="url(#sinG)"/>
<path d="M345,308 C310,302 250,315 210,350 C180,378 175,410 195,425 C225,435 275,410 305,380 C330,355 350,325 345,308 Z" fill="url(#sinG)"/>
<!-- nasal cavity -->
<path d="M300,640 C320,560 340,470 350,420 C380,360 410,315 440,298 C500,275 580,262 650,256 C720,254 770,270 810,295 C860,325 900,370 940,425 C975,475 1005,525 1018,570 C1022,590 1015,600 1000,602 L445,598 C400,600 370,606 350,612 Z" fill="url(#nasG)"/>
<g clip-path="url(#nasClip)">
<ellipse cx="610" cy="350" rx="230" ry="110" fill="url(#nasHi)" transform="rotate(-8 610 350)"/>
<path d="M440,298 C500,275 580,262 650,256 C720,254 770,270 810,295 C860,325 900,370 940,425 C975,475 1005,525 1018,570 L1030,610 C1000,530 960,470 915,420 C870,375 800,330 740,310 C700,296 660,290 620,290 C560,288 500,295 440,310 Z" fill="#a01808" opacity="0.8" filter="url(#ib8)"/>
<path d="M490,455 C600,430 730,395 825,368 C780,400 700,428 640,446 C590,458 530,462 490,455 Z" fill="#b4200e"/>
<path d="M600,440 C660,428 720,412 770,396 C740,420 680,440 640,448 Z" fill="#e07050" opacity="0.8"/>
<path d="M470,545 C520,530 600,515 690,505 C760,498 850,495 900,500 C960,510 1000,545 1015,585 L1010,605 L560,600 C520,590 490,570 470,545 Z" fill="#b21e0c" opacity="0.9" filter="url(#ib8)"/>
<path d="M500,505 C570,488 680,478 760,480 C700,500 600,518 520,528 Z" fill="#e88a62" opacity="0.75" filter="url(#ib8)"/>
<path d="M330,640 C345,590 360,530 380,480 C400,440 420,400 450,360 C410,380 380,410 360,450 C340,500 320,570 300,640 Z" fill="#b01e0c" opacity="0.7" filter="url(#ib8)"/>
<path d="M340,615 C380,605 420,600 470,598 L470,585 C420,585 380,592 345,600 Z" fill="#8e1c0a" opacity="0.8"/>
</g>
<!-- mouth arc -->
<path d="M250,770 C295,695 370,650 460,634 C540,622 640,620 700,636 C762,652 812,698 852,758 L834,774 C795,718 750,682 695,668 C640,658 548,666 475,682 C400,702 330,750 285,815 Z" fill="url(#arcG)"/>
<path d="M898,672 C895,700 888,730 890,752 C898,762 906,774 910,790 C890,797 872,798 858,812 C848,842 832,872 812,898 L788,892 C803,862 812,838 816,816 C798,812 772,826 750,842 L733,822 C758,798 792,776 826,770 C846,756 856,742 862,722 C872,698 884,682 898,672 Z" fill="#c92c10"/>
</g>
<!-- esophagus + trachea -->
<g transform="translate(160 640) scale(0.100503)">
<path d="M470,-20 L780,-20 L720,150 L400,135 L440,60 Z" fill="#8a1a0c"/>
<path d="M480,-20 C500,40 520,80 560,95 C620,100 680,70 740,10 L745,-20 Z" fill="#f9b58a"/>
<path d="M400,135 L700,175 L770,160 C750,200 735,230 720,260 C705,300 690,340 680,380 C668,420 658,460 650,500 C640,550 634,600 630,650 C625,700 622,750 620,800 C617,840 615,870 615,900 C618,930 622,955 630,980 C640,1005 650,1025 660,1040 C680,1060 700,1072 720,1080 C750,1092 775,1102 800,1110 L960,1110 L940,1180 L760,1230 C750,1260 720,1300 700,1330 L680,1360 C660,1360 640,1358 620,1350 C600,1340 580,1325 560,1310 C530,1290 505,1280 480,1270 C460,1260 440,1250 420,1245 C395,1240 375,1238 350,1240 C335,1245 320,1252 310,1260 C300,1275 290,1290 280,1300 C268,1318 255,1330 240,1335 L200,1335 C188,1325 178,1315 170,1300 C158,1268 148,1235 140,1200 C130,1165 120,1130 110,1100 C100,1075 92,1052 90,1030 C94,1012 100,998 110,985 C125,972 142,962 160,955 C185,948 210,940 230,930 C248,915 260,898 270,880 C282,848 292,815 300,780 C312,735 322,688 330,640 C342,588 352,535 360,480 C368,430 375,380 380,330 C386,285 391,242 395,200 Z" fill="url(#trG)"/>
<g clip-path="url(#trClip)">
<path d="M400,135 L700,175 L770,160 C750,200 735,230 720,260 L400,240 Z" fill="#1a2f7a" opacity="0.8"/>
<path d="M110,985 C160,955 230,930 270,880 C300,780 330,640 360,480 C380,330 395,200 400,135 L440,140 C430,300 410,480 380,650 C350,800 330,900 290,960 C250,1000 200,1030 150,1060 C130,1100 150,1200 200,1300 L200,1335 C188,1325 178,1315 170,1300 C140,1200 110,1100 90,1030 Z" fill="#24398a" opacity="0.6" filter="url(#ib30)"/>
<path d="M620,800 C615,900 630,980 660,1040 C700,1072 750,1092 800,1110 L760,1230 L700,1330 L680,1360 C640,1358 600,1340 560,1310 C600,1250 620,1150 600,1050 C590,980 590,900 600,800 Z" fill="#22398c" opacity="0.7" filter="url(#ib30)"/>
<ellipse cx="450" cy="1090" rx="170" ry="90" fill="#aeb4dc" opacity="0.75" filter="url(#ib50)"/>
<g fill="none" stroke="#2c3e88" stroke-width="9" opacity="0.85">
<path d="M420,262 C500,282 620,280 700,258"/>
<path d="M405,368 C480,388 600,386 678,366"/>
<path d="M385,470 C460,490 580,488 652,470"/>
<path d="M365,575 C440,592 560,592 636,578"/>
<path d="M345,680 C420,698 545,698 628,684"/>
<path d="M325,785 C400,800 535,800 620,790"/>
<path d="M305,885 C385,900 530,900 616,890"/>
<path d="M320,985 C400,1000 530,1000 628,985"/>
</g>
</g>
<!-- bronchus down to inset -->
</g>
<path d="M221,768 C224,778 227,788 229.5,798 L252,800 C249,787 245,774 239,762 C236,757 231,754 226,754 Z" fill="url(#brG)"/>
<path d="M232,772 C236,781 239,790 241,799 L250,800 C248,789 245,779 241,770 Z" fill="#b9c0e6" opacity="0.9" filter="url(#blur1)"/>
<path d="M222,770 C225,780 227,789 229.5,798 L234,798.5 C232,789 229,779 226,770 Z" fill="#5a6cb4" opacity="0.8" filter="url(#blur1)"/>
<!-- yellow bronchus -->
<path d="M237,762 C236,770 238,778 243,786 C250,797 260,806 272,812 C282,817 292,819.5 303,820 C294,815 283,810 274,804 C265,798 258,791 254,783 C251,776 251,769 256,764.5 C262,762 270,762 277,760.5 C268,758 256,757.5 248,758 C243,758.5 239,759.5 237,762 Z" fill="url(#yelG)"/>
<path d="M234,762 C233,771 235,780 240,788 C246,798 256,808 268,814 C280,819 292,821 303,820.5" fill="none" stroke="#e8780c" stroke-width="2.5" opacity="0.8" filter="url(#blur1)"/>
<!-- hilum dark -->
<path d="M234,762 C236,756 240,753 246,752 C252,751.5 258,750.5 264,748 C260,752 257,756 256,760 C255,763 252,765 247,765.5 C242,766 237,765 234,762 Z" fill="#8e2208"/>
<path d="M236,766 C240,770 246,768 252,765 C256,763 258,760 262,756" fill="none" stroke="#e0680c" stroke-width="3" opacity="0.8" filter="url(#blur1)"/>
<path d="M238,752 C244,748 252,747 258,748" fill="none" stroke="#dfe3f3" stroke-width="4" opacity="0.9" filter="url(#blur2)"/>
</g>

<defs>
<clipPath id="insClipS"><ellipse cx="206.1" cy="881" rx="99" ry="84.3"/></clipPath>
<radialGradient id="oliG" gradientUnits="userSpaceOnUse" cx="565" cy="590" r="600" gradientTransform="translate(565 590) scale(1 0.93) translate(-565 -590)">
<stop offset="0" stop-color="#ffe000"/>
<stop offset="0.4" stop-color="#f8d612"/>
<stop offset="0.52" stop-color="#e6d04c"/>
<stop offset="0.64" stop-color="#d4ca7c"/>
<stop offset="0.8" stop-color="#c8c6a0"/>
<stop offset="0.9" stop-color="#b6b8b8" stop-opacity="0.95"/>
<stop offset="1" stop-color="#9ca0c4" stop-opacity="0"/>
</radialGradient>
<linearGradient id="blobG2" gradientUnits="userSpaceOnUse" x1="280" y1="300" x2="820" y2="860">
<stop offset="0" stop-color="#f26c0e"/>
<stop offset="0.35" stop-color="#e4500e"/>
<stop offset="0.65" stop-color="#d23c0e"/>
<stop offset="1" stop-color="#c02a0c"/>
</linearGradient>
<linearGradient id="creG2" gradientUnits="userSpaceOnUse" x1="100" y1="200" x2="1000" y2="950">
<stop offset="0" stop-color="#b4301c"/>
<stop offset="0.5" stop-color="#c4442e"/>
<stop offset="1" stop-color="#a8240f"/>
</linearGradient>
<clipPath id="insClip"><ellipse cx="604.5" cy="522.5" rx="539" ry="459"/></clipPath>

<radialGradient id="dotG" cx="0.5" cy="0.5" r="0.5">
<stop offset="0" stop-color="#f9c0b0"/>
<stop offset="0.45" stop-color="#ec8e7c"/>
<stop offset="1" stop-color="#cc4030"/>
</radialGradient>
</defs>
<g transform="translate(95 785) scale(0.18379)">
<ellipse cx="604.5" cy="522.5" rx="549" ry="469" fill="#ffffff"/>
<ellipse cx="604.5" cy="522.5" rx="538" ry="458" fill="#c2200f"/>
<g clip-path="url(#insClip)">
<!-- lavender ring -->
<path d="M520,112 C600,108 680,112 720,130 C745,160 755,200 765,235 C840,240 930,270 1000,320 C1050,380 1078,440 1075,520 C1075,600 1065,660 1040,720 C1010,790 970,840 920,880 C850,925 780,942 700,942 C610,942 520,925 450,900 C400,880 360,860 330,830 C310,800 318,780 335,775 C300,770 250,745 200,710 C150,650 108,560 108,480 C115,400 140,330 180,275 C240,200 310,160 400,130 C440,118 480,114 520,112 Z" fill="#767eb4"/>
<path d="M150,560 C130,450 170,330 260,250 C330,190 430,150 540,145 C620,142 700,150 745,170 L755,205 C700,180 620,168 540,170 C440,175 350,210 285,265 C210,335 170,440 185,560 Z" fill="#b9bde2" filter="url(#ib8)"/>
<path d="M185,560 C170,440 210,335 285,265 C350,210 440,175 540,170 C620,168 700,180 755,205 L765,240 C700,215 620,205 545,208 C460,212 380,240 320,290 C255,350 220,440 225,540 Z" fill="#5462a6" filter="url(#ib8)"/>
<path d="M765,235 C840,240 930,270 1000,320 C960,315 920,320 890,335 C860,345 840,330 820,300 C800,270 780,250 765,235 Z" fill="#4e5ba2" filter="url(#ib8)"/>
<path d="M890,335 C950,335 1010,370 1045,430 C1075,490 1080,570 1062,650 C1050,600 1035,560 1010,520 C980,470 930,400 890,335 Z" fill="#c3c7e8" filter="url(#ib8)"/>
<path d="M1062,650 C1050,730 1000,810 935,865 C870,910 790,940 700,942 C620,942 530,925 460,900 C560,910 690,900 790,860 C880,820 955,745 990,655 C1005,615 1010,565 1005,520 C1035,555 1055,600 1062,650 Z" fill="#6a74b0" filter="url(#ib8)"/>
<path d="M335,775 C370,800 400,830 450,860 C520,900 600,915 680,915 C600,935 500,925 430,895 C380,875 340,850 320,820 C310,800 318,785 335,775 Z" fill="#aab0da" filter="url(#ib8)"/>
<path d="M108,480 C110,560 150,650 200,710 C250,745 300,770 335,775 C290,740 250,690 225,620 C205,560 200,500 210,440 C180,440 140,455 108,480 Z" fill="#7580b8" filter="url(#ib8)"/>
<!-- red intrusions -->
<path d="M720,130 C745,160 755,200 765,235 C800,240 840,245 880,260 C960,290 1030,340 1075,420 C1100,470 1110,520 1110,560 L1160,520 C1150,400 1080,250 960,170 C880,125 800,110 720,130 Z" fill="#c2200f"/>
<path d="M335,775 C300,770 250,745 200,710 C170,680 140,630 120,580 L60,560 C70,700 150,820 260,880 C290,870 320,850 330,830 C315,805 320,785 335,775 Z" fill="#c2200f"/>
</g>
</g>
<g clip-path="url(#insClipS)">
<g transform="translate(130 810) scale(0.12531)">
<!-- olive interior -->
<ellipse cx="565" cy="590" rx="600" ry="558" fill="url(#oliG)"/>
<!-- yellow core -->
<ellipse cx="530" cy="600" rx="360" ry="340" fill="#fdd000" filter="url(#ib30)"/>
<path d="M110,650 C150,780 260,900 420,950 C520,975 620,960 700,920 C640,990 520,1020 400,1000 C280,975 190,900 150,800 C125,740 110,690 110,650 Z" fill="#fdd400" filter="url(#ib15)"/>
<ellipse cx="450" cy="720" rx="130" ry="90" fill="#fffdf0" opacity="0.9" filter="url(#ib50)"/>
<ellipse cx="440" cy="610" rx="55" ry="110" fill="#fffbe8" opacity="0.85" filter="url(#ib30)"/>
<ellipse cx="650" cy="600" rx="90" ry="60" fill="#fff0a8" opacity="0.9" filter="url(#ib30)"/>
<path d="M140,720 C220,760 330,790 450,790 C380,830 240,820 140,720 Z" fill="#fff3b0" opacity="0.85" filter="url(#ib15)"/>
<!-- orange blobs -->
<g fill="url(#blobG2)" stroke="url(#blobG2)" stroke-width="30" stroke-linejoin="round">
<path d="M425,315 L540,300 L578,335 L588,400 L635,422 L600,468 L545,452 L522,520 L560,560 L578,600 L540,645 L475,618 L472,560 L500,500 L470,468 L422,458 L440,400 L412,350 Z"/>
<path d="M312,425 L388,442 L398,510 L370,560 L378,620 L330,675 L265,665 L255,622 L302,580 L272,530 L262,482 Z"/>
<path d="M652,305 L738,332 L776,400 L758,448 L722,470 L738,500 L700,528 L650,518 L604,508 L612,470 L640,440 L632,380 Z"/>
<path d="M790,455 L855,500 L828,570 L792,600 L848,640 L866,720 L828,776 L760,768 L722,800 L700,848 L640,876 L594,838 L565,760 L582,712 L650,682 L720,660 L740,600 L722,542 L760,500 Z"/>
</g>
<circle cx="352" cy="795" r="26" fill="#e4560e"/>
<g fill="#b8280c" opacity="0.55" filter="url(#ib15)">
<ellipse cx="510" cy="440" rx="60" ry="70"/>
<ellipse cx="690" cy="470" rx="50" ry="40"/>
<ellipse cx="700" cy="760" rx="90" ry="70"/>
<ellipse cx="790" cy="600" rx="40" ry="50"/>
</g>
<!-- crescents -->
<g fill="url(#creG2)" stroke="url(#creG2)" stroke-width="12" stroke-linejoin="round">
<path d="M178,500 C185,420 230,340 310,290 C390,245 480,220 556,212 C500,240 420,270 350,310 C280,355 225,420 195,505 Z"/>
<path d="M212,565 C205,500 225,420 300,345 C265,410 245,490 245,580 Z"/>
<path d="M118,640 C100,560 112,470 150,400 C140,480 140,560 135,640 Z"/>
<path d="M568,240 C610,236 670,242 712,262 C670,275 610,272 568,240 Z"/>
<path d="M775,258 C850,300 920,380 950,470 C975,560 965,660 905,742 C935,650 930,560 900,470 C870,390 825,320 775,258 Z"/>
<path d="M1000,470 C1025,540 1022,640 990,720 C975,760 960,780 945,795 C960,740 965,700 955,660 C985,610 1000,540 1000,470 Z"/>
<path d="M600,940 C680,935 780,910 885,825 C850,890 780,935 690,950 C655,952 625,948 600,940 Z"/>
<path d="M718,862 C745,830 790,812 830,810 C805,840 762,862 718,862 Z"/>
</g>
<g fill="#f2a898" opacity="0.85" filter="url(#ib8)">
<path d="M240,400 C290,330 360,290 440,260 C380,300 300,350 240,400 Z"/>
<path d="M840,340 C900,410 935,500 935,600 C915,500 880,420 840,340 Z"/>
<path d="M640,945 C720,930 790,900 850,860 C800,910 720,945 640,945 Z"/>
</g>
<!-- dots -->
<g fill="url(#dotG)" stroke="#c8402e" stroke-width="4">
<ellipse cx="390" cy="163" rx="55" ry="33"/>
<circle cx="510" cy="143" r="37"/>
<circle cx="622" cy="163" r="31"/>
<circle cx="722" cy="190" r="24"/>
<circle cx="270" cy="215" r="39"/>
<ellipse cx="183" cy="240" rx="29" ry="41"/>
<ellipse cx="135" cy="322" rx="37" ry="21"/>
<circle cx="95" cy="360" r="24"/>
<ellipse cx="72" cy="455" rx="34" ry="21"/>
<circle cx="30" cy="500" r="27"/>
<circle cx="52" cy="650" r="26"/>
<circle cx="87" cy="768" r="32"/>
<ellipse cx="910" cy="325" rx="37" ry="24"/>
<circle cx="1018" cy="430" r="21"/>
<ellipse cx="1052" cy="545" rx="24" ry="34"/>
<ellipse cx="1057" cy="720" rx="34" ry="27"/>
<circle cx="1028" cy="825" r="29"/>
<ellipse cx="960" cy="900" rx="34" ry="23"/>
<ellipse cx="882" cy="980" rx="49" ry="39"/>
<circle cx="727" cy="1028" r="37"/>
<ellipse cx="615" cy="1048" rx="29" ry="17"/>
<circle cx="508" cy="1020" r="24"/>
<circle cx="447" cy="1040" r="37"/>
</g>
</g>
</g>

<defs>
<radialGradient id="boxG" gradientUnits="userSpaceOnUse" cx="581" cy="456" r="100" gradientTransform="translate(581 456) scale(0.72 1.12) translate(-581 -456)">
<stop offset="0" stop-color="#757da8"/>
<stop offset="0.35" stop-color="#535c8e"/>
<stop offset="0.7" stop-color="#36427a"/>
<stop offset="1" stop-color="#1f2d66"/>
</radialGradient>
</defs>
<rect x="520.5" y="364" width="121" height="187" rx="19" ry="19" fill="url(#boxG)"/>

<defs>
<linearGradient id="shaftG" gradientUnits="userSpaceOnUse" x1="826" y1="600" x2="866" y2="606">
<stop offset="0" stop-color="#cfcfcf"/>
<stop offset="0.3" stop-color="#e6e6e6"/>
<stop offset="0.55" stop-color="#ededed"/>
<stop offset="0.8" stop-color="#d6d6d6"/>
<stop offset="1" stop-color="#bdbdbd"/>
</linearGradient>
<linearGradient id="shaftLow" gradientUnits="userSpaceOnUse" x1="0" y1="600" x2="0" y2="770">
<stop offset="0" stop-color="#000" stop-opacity="0"/>
<stop offset="1" stop-color="#000" stop-opacity="0.16"/>
</linearGradient>
<linearGradient id="marrowG" gradientUnits="userSpaceOnUse" x1="852" y1="530" x2="870" y2="533">
<stop offset="0" stop-color="#c2200c"/>
<stop offset="0.5" stop-color="#f2600c"/>
<stop offset="1" stop-color="#c8240c"/>
</linearGradient>
<linearGradient id="marrowV" gradientUnits="userSpaceOnUse" x1="0" y1="475" x2="0" y2="595">
<stop offset="0" stop-color="#c8200c" stop-opacity="0.5"/>
<stop offset="0.15" stop-color="#f06010" stop-opacity="0"/>
<stop offset="0.6" stop-color="#d8300c" stop-opacity="0.1"/>
<stop offset="1" stop-color="#b81808" stop-opacity="0.75"/>
</linearGradient>
<linearGradient id="neckG2" gradientUnits="userSpaceOnUse" x1="380" y1="700" x2="1010" y2="600">
<stop offset="0" stop-color="#dcdede"/>
<stop offset="0.3" stop-color="#ecEEee"/>
<stop offset="0.6" stop-color="#e4e6e6"/>
<stop offset="0.85" stop-color="#cfd1d1"/>
<stop offset="1" stop-color="#b4b6b6"/>
</linearGradient>
<radialGradient id="ballG2" gradientUnits="userSpaceOnUse" cx="400" cy="250" r="260">
<stop offset="0" stop-color="#cdcece"/>
<stop offset="0.6" stop-color="#c0c1c1"/>
<stop offset="1" stop-color="#a8aaaa"/>
</radialGradient>
</defs>
<g>
<!-- shaft -->
<path d="M853,470 C852,500 845,550 838.5,598 C833,640 826,676 819,702 C814,725 808,748 803,768 L838,772 C841,755 845,730 848.5,702 C852,672 857,636 862.8,598 C868,565 874,530 882.5,489 C884,480 887,472 889,466 Z" fill="url(#shaftG)"/>
<path d="M853,470 C852,500 845,550 838.5,598 C833,640 826,676 819,702 C814,725 808,748 803,768 L838,772 C841,755 845,730 848.5,702 C852,672 857,636 862.8,598 C868,565 874,530 882.5,489 C884,480 887,472 889,466 Z" fill="url(#shaftLow)"/>
<!-- trochanter and neck -->
<g transform="translate(800 385) scale(0.10025)">
<path d="M330,480 C370,530 420,580 460,630 C485,680 500,740 508,800 C514,870 522,950 530,1030 L535,1110 L848,1110 C852,1040 860,960 872,890 C880,840 895,790 915,755 C950,710 985,660 1005,590 C1018,530 1016,460 1000,415 C980,360 945,320 905,302 C870,290 835,288 800,290 L800,372 C770,385 740,388 720,385 C690,380 650,350 610,300 Z" fill="url(#neckG2)"/>
<path d="M720,385 C740,388 770,385 800,372 L800,290 C835,288 870,290 905,302 C945,320 980,360 1000,415 C1016,460 1018,530 1005,590 C985,660 950,710 915,755 C895,790 880,840 872,890 C900,800 920,720 930,640 C940,560 920,480 870,430 C830,400 780,395 720,385 Z" fill="#b9bbbb" opacity="0.75" filter="url(#ib15)"/>
<path d="M735,395 C715,450 680,510 640,560 C620,585 600,605 585,615 L600,640 C640,610 690,550 725,490 C745,455 755,425 760,400 Z" fill="#9a9c9c" opacity="0.95" filter="url(#ib8)"/>
<path d="M330,480 C370,530 420,580 460,630 C485,680 500,740 508,800 C520,740 515,680 500,630 C470,570 420,520 370,480 Z" fill="#c4c6c6" opacity="0.8" filter="url(#ib8)"/>
<!-- ball head -->
<path d="M170,300 C180,270 200,235 230,190 C260,155 300,125 350,110 C390,102 440,105 500,135 C545,160 585,205 600,250 C606,275 600,300 580,325 C550,360 500,395 430,440 C390,465 340,495 290,512 C265,518 245,515 238,505 C225,480 205,440 190,400 C178,365 168,330 170,300 Z" fill="url(#ballG2)"/>
<path d="M290,512 C340,495 390,465 430,440 C500,395 550,360 580,325 C600,300 606,275 600,250 C590,290 560,320 520,350 C460,395 380,440 300,470 C270,480 245,485 230,480 C235,495 240,505 245,510 C255,516 275,516 290,512 Z" fill="#9c9e9e" opacity="0.9"/>
</g>
<!-- marrow cavity rim -->
<path d="M869.5,471.5 C861,472.5 856,480 855,490 C852.5,520 846,560 840.5,597 L862.5,599.5 C867.5,562 873.5,524 880,490 C881.5,480 878,472 869.5,471.5 Z" fill="#a9a9a9"/>
<path d="M869.5,476.5 C863.5,477.5 860,484 859,492 C856.5,522 850.5,560 845.5,594 L859,596 C863.5,561 869.5,524 875.5,492 C877,484 875,477 869.5,476.5 Z" fill="url(#marrowG)"/>
<path d="M869.5,476.5 C863.5,477.5 860,484 859,492 C856.5,522 850.5,560 845.5,594 L859,596 C863.5,561 869.5,524 875.5,492 C877,484 875,477 869.5,476.5 Z" fill="url(#marrowV)"/>
<path d="M839.5,598.5 C843,592.5 848,590.5 852.5,591 C857.5,591.5 861.5,594.5 863,600 C855,606 847,604 839.5,598.5 Z" fill="#ececec"/>
</g>

<defs>
<radialGradient id="circG" gradientUnits="userSpaceOnUse" cx="790" cy="868" r="116">
<stop offset="0" stop-color="#cfd1e8"/>
<stop offset="0.3" stop-color="#bdc0dc"/>
<stop offset="0.6" stop-color="#a3a7cb"/>
<stop offset="0.85" stop-color="#8a8fb8"/>
<stop offset="1" stop-color="#7a80ab"/>
</radialGradient>
<radialGradient id="grG" cx="0.55" cy="0.45" r="0.6">
<stop offset="0" stop-color="#b81c13"/>
<stop offset="0.45" stop-color="#981712"/>
<stop offset="1" stop-color="#6e0f0f"/>
</radialGradient>
<radialGradient id="grG2" cx="0.5" cy="0.35" r="0.65">
<stop offset="0" stop-color="#bd1d13"/>
<stop offset="0.5" stop-color="#9a1712"/>
<stop offset="1" stop-color="#6e0f0f"/>
</radialGradient>
</defs>
<circle cx="801.6" cy="872.4" r="107.5" fill="url(#circG)"/>
<g>
<path d="M822,797 C830,800 846,798 856,806 C859,812 859,822 856,828 C853,836 846,834 842,837 C835,836 830,833 826,830 C820,825 815,818 816.5,811 C817.5,805 819,800 822,797 Z" fill="url(#grG)"/>
<path d="M849,832 C855,826 863,824 868,826 C875,828 883,832 886,838 C888,848 885,860 882,870 C879,876 875,880 871,879 C866,877 862,872 857,870 C851,868 845,864 843,858 C842,850 845,840 849,832 Z" fill="url(#grG)"/>
<path d="M788,855 C793,846 803,837 813,835 C822,835 830,842 834,850 C836,858 833,866 829,871 C824,876 817,875 810,872 C803,868 797,863 793,858 Z" fill="url(#grG2)"/>
<path d="M832,876 C838,871 850,872 858,877 C865,882 866,890 864,897 C860,904 852,906 845,905 C838,902 832,897 830,891 C829,886 830,880 832,876 Z" fill="url(#grG)"/>
<path d="M799,878 C805,880 814,883 821,889 C827,895 831,905 832,914 C830,921 823,925 815,927 C808,928 801,924 797,918 C792,911 787,903 786,896 C787,888 792,881 799,878 Z" fill="url(#grG)"/>
<path d="M722,908 C730,899 745,894 756,894 C762,896 764,903 765,910 C767,918 768,926 767,932 C762,939 753,942 745,942 C737,941 729,938 725,933 C721,926 720,916 722,908 Z" fill="url(#grG2)"/>
</g>

<defs>
<linearGradient id="panH" gradientUnits="userSpaceOnUse" x1="925" y1="0" x2="1120" y2="0">
<stop offset="0" stop-color="#a2a4a3"/>
<stop offset="0.1" stop-color="#abadac"/>
<stop offset="0.3" stop-color="#c5c7c6"/>
<stop offset="0.5" stop-color="#d4d6d5"/>
<stop offset="0.7" stop-color="#c2c4c3"/>
<stop offset="0.9" stop-color="#a8aaa9"/>
<stop offset="1" stop-color="#9ea09f"/>
</linearGradient>
<radialGradient id="panR" gradientUnits="userSpaceOnUse" cx="1022" cy="657" r="100" gradientTransform="translate(1022 657) scale(0.75 2.3) translate(-1022 -657)">
<stop offset="0" stop-color="#ffffff" stop-opacity="0.95"/>
<stop offset="0.3" stop-color="#f6f6f6" stop-opacity="0.75"/>
<stop offset="0.7" stop-color="#e0e0e0" stop-opacity="0.3"/>
<stop offset="1" stop-color="#d0d0d0" stop-opacity="0"/>
</radialGradient>
</defs>
<rect x="925" y="407" width="195" height="497" rx="21" ry="21" fill="url(#panH)"/>
<rect x="925" y="407" width="195" height="497" rx="21" ry="21" fill="url(#panR)"/>
<rect x="933.5" y="635.5" width="178" height="114" rx="18" ry="18" fill="none" stroke="#b3211c" stroke-width="1.8"/>
<!-- erythrocyte -->
<ellipse cx="976.2" cy="457.2" rx="20.3" ry="17.2" fill="#c4200f"/>
<path d="M979.5,450 C973,448.5 965.5,452 965,459 C964.5,466 971,470.5 980,469" fill="none" stroke="#2a1a4e" stroke-width="2" stroke-linecap="round"/>
<!-- erythrocyte side view -->
<path d="M956.5,497 C956,492.5 961,491 967,492.5 C973,494.5 980,494 986,492 C992,490 996,490 997.5,494 C999,498 998,502 994,502.5 C988,503 981,501 975,502.5 C969,504 962,505 959,502.5 C957,501 956.8,499 956.5,497 Z" fill="#c4200f"/>
<!-- lymphocyte -->
<path d="M953,559 C953,549 960,541.5 969,542.5 C975,543.5 979,546 984,547.5 C990,549.5 993,555 992.5,561 C992,570 985,577 974,577.5 C962,578 953,570 953,559 Z" fill="#17215f"/>
<path d="M957.5,559.5 C957,552.5 963,547.5 970,548 C973,550 974.5,553.5 978,554.5 C983,556 986,559 985,563.5 C984,569 977,571.5 970,570.5 C962,569.5 958,565 957.5,559.5 Z" fill="#c2241a"/>
<!-- monocyte -->
<path d="M940.5,600 C941.5,590 952,583 966,582.5 C982,582 997,590 1001,604 C1004,616 996,627 980,630 C965,632.5 952,627 946,617 C942,611 940,606 940.5,600 Z" fill="#5a6098"/>
<path d="M955.5,598 C956,591 962,586 970,586.5 C981,587.5 992,595 995,605 C997,615 991,622.5 981,623.5 C973,624 968,620 967.5,614 C967.5,609.5 971,607 970,604 C968,601 962,603 958.5,601.5 C956.5,600.5 955.5,599.5 955.5,598 Z" fill="#f55f05"/>
<!-- eosinophil -->
<ellipse cx="972.7" cy="664.3" rx="27" ry="21.5" fill="#ffa66e"/>
<path d="M952,656 C953,652.5 960,651 967,651.5 C974,652 979,654.5 978.5,657.5 C978,661 970,662 963,661 C957,660.5 951.5,659 952,656 Z" fill="#d76a4e"/>
<path d="M988.5,659 C991,662 991,668 988,672 C984,677 976,678.5 969,677.5 C965,677 964.5,673.5 966.5,672 C970,670.5 976,670 980,667 C984,664.5 985.5,660 988.5,659 Z" fill="#d76a4e"/>
<!-- neutrophil -->
<ellipse cx="972" cy="718" rx="25.3" ry="22" fill="#999bc7"/>
<path d="M953,712 C955,709 959,710.5 962,712 C966,714 968,712 969,708.5 C970,705 973,703.5 975,706 C977,709 980,710 984,711 C989,712 991.5,716 990,720 C988,725 982,726 977,725 C973,724.5 971,727 969.5,730 C968,733.5 967,736.5 963,736.5 C958,737 954,735 954.5,730 C955,725 954.5,720 953.5,716.5 C953,715 952.5,713.5 953,712 Z" fill="#f6c3aa"/>
<!-- basophil -->
<ellipse cx="968.2" cy="787" rx="26.8" ry="25.2" fill="#c41b10"/>
<path d="M946,781 C948,776.5 953,776 956.5,778.5 C960,781 960.5,786 962,789 C963.5,786 963,781.5 965,778.5 C967.5,775 972,774 976,775.5 C980,777 985,778.5 988,781.5 C990.5,784.5 990,789 987,791.5 C984.5,793.5 980.5,792.5 978,794 C979,797.5 983,800 982.5,804 C981,808 975.5,807.5 972,805.5 C969,803.5 966.5,804 963.5,805.5 C959.5,807.5 954.5,806.5 951.5,803.5 C948,800 945.5,795 945,790 C944.8,787 945,784 946,781 Z" fill="#5c5e96"/>
<path d="M968.5,783.5 C972,781.5 977,782.5 978.5,785 C979.5,787.5 976,788.5 973.5,789.5 C970.5,791 970,794 971.5,797 C972.5,799.5 970,801 967,800 C963.5,798.5 962.5,795 963.5,791.5 C964.5,788.5 965.5,785.5 968.5,783.5 Z" fill="#c41b10"/>
<path d="M953,786 C955,789 956.5,793 957,797 C955,795 952.5,791 953,786 Z" fill="#c41b10" opacity="0.7"/>
<!-- platelets -->
<g fill="#1a2560">
<ellipse cx="964.6" cy="847.8" rx="3.2" ry="3"/>
<rect x="955.5" y="846.6" width="7" height="1.3"/>
<ellipse cx="974.6" cy="852.3" rx="2.4" ry="3"/>
<ellipse cx="957.3" cy="856.6" rx="4" ry="2.5"/>
<ellipse cx="967.5" cy="859.3" rx="1.6" ry="3.2"/>
<ellipse cx="979.7" cy="860.8" rx="1.7" ry="2.8"/>
<ellipse cx="959.8" cy="864.8" rx="3" ry="2.7"/>
<ellipse cx="972" cy="863.8" rx="2.6" ry="2.7"/>
<ellipse cx="970.8" cy="872.3" rx="2.6" ry="2.2"/>
</g>

<g fill="none" stroke="#6b75a6" stroke-width="3.8" stroke-linecap="butt" stroke-linejoin="miter">
<path d="M641.5,505 L795,556.5"/>
<path d="M782.5,537.5 L795.5,556.7 L773,566.5"/>
<path d="M735,789 L440,511"/>
<path d="M461.5,509.5 L439,509.5 L439,532"/>
<path d="M696,853 L353,818.5"/>
<path d="M370.5,804.5 L352,818.3 L367.5,835"/>
</g>

</svg>
<div id="rule"></div>
</body>
</html>
